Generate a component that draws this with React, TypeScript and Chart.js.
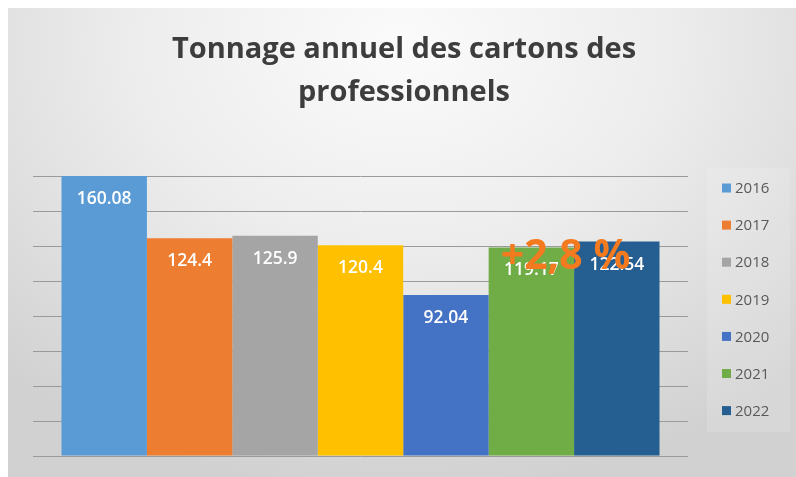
import React, { useEffect, useRef } from "react";
import { Chart, registerables } from "chart.js";

Chart.register(...registerables);

const TITLE_LINES = ["Tonnage annuel des cartons des", "professionnels"];
const YEARS = ["2016", "2017", "2018", "2019", "2020", "2021", "2022"];
const VALUES = [160.08, 124.4, 125.9, 120.4, 92.04, 119.17, 122.54];
const VALUE_LABELS = ["160.08", "124.4", "125.9", "120.4", "92.04", "119.17", "122.54"];
const COLORS = ["#5B9BD5", "#ED7D31", "#A5A5A5", "#FFC000", "#4472C4", "#70AD47", "#255E91"];
const CHANGE_LABEL = "+2,8 %";
const Y_MIN = 0;
const Y_MAX = 160;
const Y_STEP = 20;

const FONT = "'Open Sans', 'DejaVu Sans', sans-serif";

const overlayPlugin = {
  id: "overlay",
  afterDatasetsDraw(chart: any) {
    const ctx = chart.ctx;
    const area = chart.chartArea;
    ctx.save();
    ctx.textAlign = "center";
    ctx.textBaseline = "middle";
    ctx.font = `600 17.5px ${FONT}`;
    ctx.fillStyle = "#ffffff";
    chart.data.datasets.forEach((ds: any, i: number) => {
      const el = chart.getDatasetMeta(i).data[0];
      if (!el) return;
      ctx.fillText(VALUE_LABELS[i], el.x, el.y + 23);
    });
    const a = chart.getDatasetMeta(5).data[0];
    const b = chart.getDatasetMeta(6).data[0];
    if (a && b) {
      ctx.font = `bold 41px ${FONT}`;
      ctx.fillStyle = "#F47A1F";
      ctx.fillText(CHANGE_LABEL, a.x + (b.x - a.x) * 0.4, b.y + 16);
    }
    const lx = area.right + 19;
    const ly = area.top - 8;
    ctx.fillStyle = "rgba(255,255,255,0.14)";
    ctx.fillRect(lx, ly, chart.width - 6 - lx, 264);
    ctx.font = `15px ${FONT}`;
    ctx.textAlign = "left";
    chart.data.datasets.forEach((ds: any, i: number) => {
      const cy = area.top + 12 + i * 37.1;
      ctx.fillStyle = ds.backgroundColor;
      ctx.fillRect(lx + 15, cy - 4.5, 9, 9);
      ctx.fillStyle = "#595959";
      ctx.fillText(ds.label, lx + 28, cy + 1);
    });
    ctx.restore();
  },
};

export default function App() {
  const ref = useRef<HTMLCanvasElement | null>(null);
  useEffect(() => {
    if (!ref.current) return;
    const chart = new Chart(ref.current, {
      type: "bar",
      data: {
        labels: [""],
        datasets: YEARS.map((y, i) => ({
          label: y,
          data: [VALUES[i]],
          backgroundColor: COLORS[i],
          borderWidth: 0,
          categoryPercentage: 0.913,
          barPercentage: 1.0,
          yAxisID: "y",
        })),
      },
      options: {
        animation: false,
        responsive: true,
        maintainAspectRatio: false,
        layout: { padding: { left: 4, right: 0, top: 0, bottom: 21 } },
        plugins: {
          legend: { display: false },
          tooltip: { enabled: false },
          title: {
            display: true,
            text: TITLE_LINES,
            color: "#3d3d3d",
            font: { family: FONT, size: 29, weight: "bold", lineHeight: 1.483 },
            padding: { top: 20.5, bottom: 61.5 },
          },
        },
        scales: {
          x: { display: false },
          y: {
            position: "left",
            min: Y_MIN,
            max: Y_MAX,
            ticks: { display: false, stepSize: Y_STEP },
            border: { display: false },
            grid: { color: "#9a9a9a", lineWidth: 1, drawTicks: false },
            afterFit: (s: any) => {
              s.width = 21;
            },
          },
          y2: {
            position: "right",
            ticks: { display: false },
            border: { display: false },
            grid: { display: false, drawTicks: false },
            afterFit: (s: any) => {
              s.width = 108;
            },
          },
        },
      },
      plugins: [overlayPlugin],
    });
    return () => chart.destroy();
  }, []);
  return (
    <div
      style={{
        position: "fixed",
        left: 8,
        top: 8,
        width: 788,
        height: 469,
        background:
          "radial-gradient(ellipse 75% 95% at 50% 8%, #fbfbfb 0%, #ededed 45%, #d1d1d1 100%)",
      }}
    >
      <canvas ref={ref} />
    </div>
  );
}
